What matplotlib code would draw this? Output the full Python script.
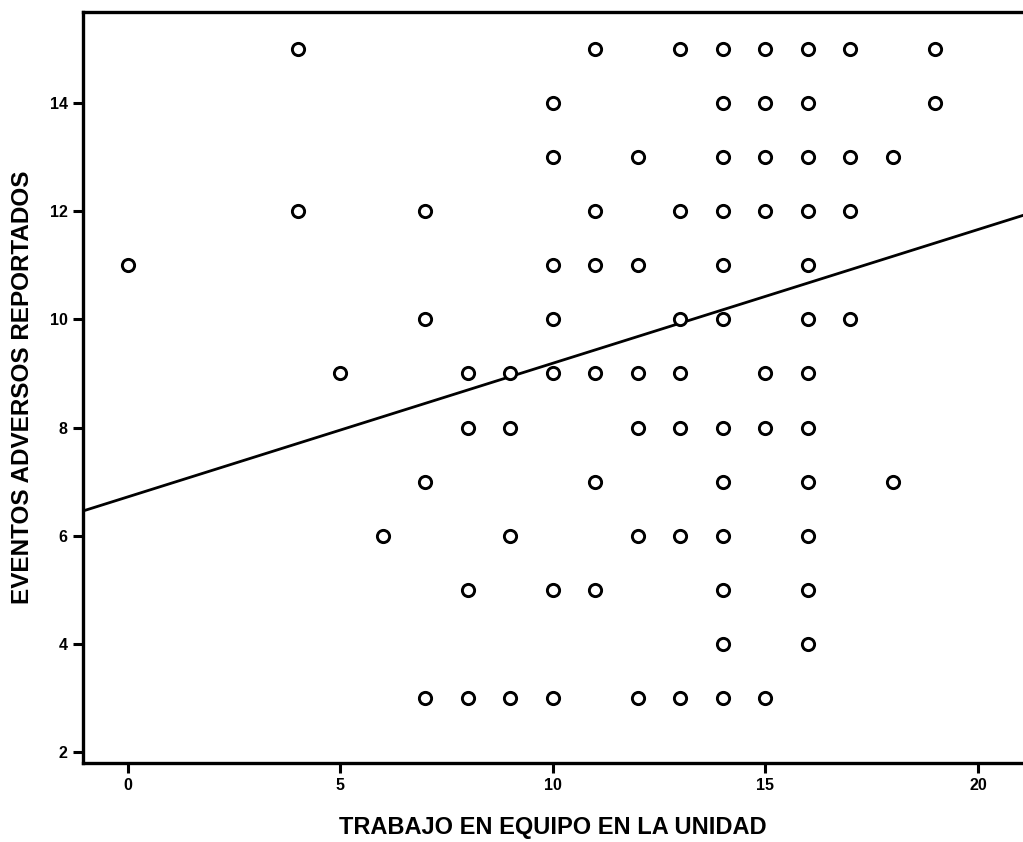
import matplotlib
matplotlib.use("Agg")
import matplotlib.pyplot as plt
import numpy as np

plt.rcParams['font.family'] = ['Liberation Sans', 'DejaVu Sans']

# Scatter data, grouped by row (EVENTOS ADVERSOS REPORTADOS value)
rows_y = [15, 14, 13, 12, 11, 10, 9, 8, 7, 6, 5, 4, 3]
rows_x = [
    [4, 11, 13, 14, 15, 16, 17, 19],
    [10, 14, 15, 16, 19],
    [10, 12, 14, 15, 16, 17, 18],
    [4, 7, 11, 13, 14, 15, 16, 17],
    [0, 10, 11, 12, 14, 16],
    [7, 10, 13, 14, 16, 17],
    [5, 8, 9, 10, 11, 12, 13, 15, 16],
    [8, 9, 12, 13, 14, 15, 16],
    [7, 11, 14, 16, 18],
    [6, 9, 12, 13, 14, 16],
    [8, 10, 11, 14, 16],
    [14, 16],
    [7, 8, 9, 10, 12, 13, 14, 15],
]
x_vals = [x for xs in rows_x for x in xs]
y_vals = [y for y, xs in zip(rows_y, rows_x) for _ in xs]

# Fitted regression line
fit_intercept = 6.72
fit_slope = 0.247

x_ticks = [0, 5, 10, 15, 20]
y_ticks = [2, 4, 6, 8, 10, 12, 14]
x_label = "TRABAJO EN EQUIPO EN LA UNIDAD"
y_label = "EVENTOS ADVERSOS REPORTADOS"

fig = plt.figure(figsize=(10.23, 8.42), dpi=100)
ax = fig.add_axes([0.0811, 0.0938, 1 - 0.0811, 0.9857 - 0.0938])

xlim = (-1.06, 21.06)
ylim = (1.80, 15.68)
ax.set_xlim(*xlim)
ax.set_ylim(*ylim)

ax.plot(x_vals, y_vals, linestyle='none', marker='o', markersize=8.8,
        markerfacecolor='white', markeredgecolor='black', markeredgewidth=2.1,
        zorder=3)

lx = np.array(xlim)
ax.plot(lx, fit_intercept + fit_slope * lx, color='black', linewidth=2.0, zorder=2)

for side in ['left', 'bottom', 'top']:
    ax.spines[side].set_linewidth(2.4)
ax.spines['right'].set_visible(False)

ax.set_xticks(x_ticks)
ax.set_yticks(y_ticks)
ax.tick_params(axis='both', direction='out', length=7, width=2.2,
               labelsize=11.5, pad=4)
for lbl in ax.get_xticklabels() + ax.get_yticklabels():
    lbl.set_fontweight('bold')

ax.set_xlabel(x_label, fontsize=17, fontweight='bold', labelpad=16)
ax.set_ylabel(y_label, fontsize=17.5, fontweight='bold', labelpad=11)

fig.savefig("out.png", dpi=100)
